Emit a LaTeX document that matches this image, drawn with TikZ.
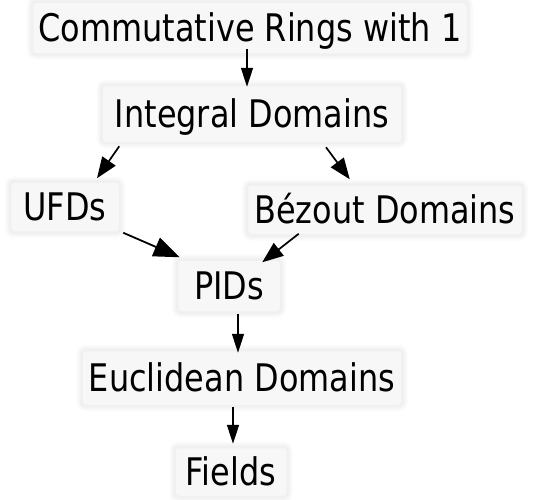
\documentclass[tikz,border=0pt]{standalone}
\usepackage{fontspec}
\setmainfont{DejaVu Sans}[FakeStretch=0.84]
\usetikzlibrary{arrows.meta}
\tikzset{
  box/.style={fill=black!3,
    preaction={draw=black!2, line width=10pt},
    preaction={draw=black!4, line width=6pt},
    draw=black!6, line width=2.5pt,
    rounded corners=4pt, inner sep=0pt, text height=27.5pt, text depth=0pt,
    font=\fontsize{38}{40}\selectfont, text=black},
  arr/.style={line width=1.6pt, -{Triangle[length=19pt,width=12pt]}},
  bigarr/.style={line width=1.8pt, -{Triangle[length=26pt,width=20pt]}},
  midarr/.style={line width=1.7pt, -{Triangle[length=21pt,width=16pt]}}
}
\begin{document}
\begin{tikzpicture}[x=1pt,y=-1pt]
\useasboundingbox (0,0) rectangle (533,499);
\node[box, minimum width=436pt, minimum height=53pt] (n1) at (250,28) {Commutative Rings with 1};
\node[box, minimum width=301pt, minimum height=58pt] (n2) at (252,114) {Integral Domains};
\node[box, minimum width=110pt, minimum height=51pt] (ufd) at (65,207) {UFDs};
\node[box, minimum width=276pt, minimum height=51pt] (bez) at (385,210) {Bézout Domains};
\node[box, minimum width=104pt, minimum height=53pt] (pid) at (229,286) {PIDs};
\node[box, minimum width=321pt, minimum height=56pt] (euc) at (242,378) {Euclidean Domains};
\node[box, minimum width=113pt, minimum height=50pt] (fld) at (231,472) {Fields};
\draw[arr] ([shift={(-3,-7)}]n1.south) -- ([shift={(-5,3)}]n2.north);
\draw[midarr] ([shift={(19,2)}]n2.south west) -- ([shift={(32,-2)}]ufd.north);
\draw[midarr] ([shift={(74,3)}]n2.south) -- ([shift={(104,-4)}]bez.north west);
\draw[bigarr] ([shift={(2,-1)}]ufd.south east) -- ([shift={(4,-1)}]pid.north west);
\draw[midarr] ([shift={(53,-3)}]bez.south west) -- ([shift={(-20,4)}]pid.north east);
\draw[arr] ([shift={(9,0)}]pid.south) -- ([shift={(-4,4)}]euc.north);
\draw[arr] ([shift={(-9,0)}]euc.south) -- ([shift={(2,-2)}]fld.north);
\end{tikzpicture}
\end{document}
